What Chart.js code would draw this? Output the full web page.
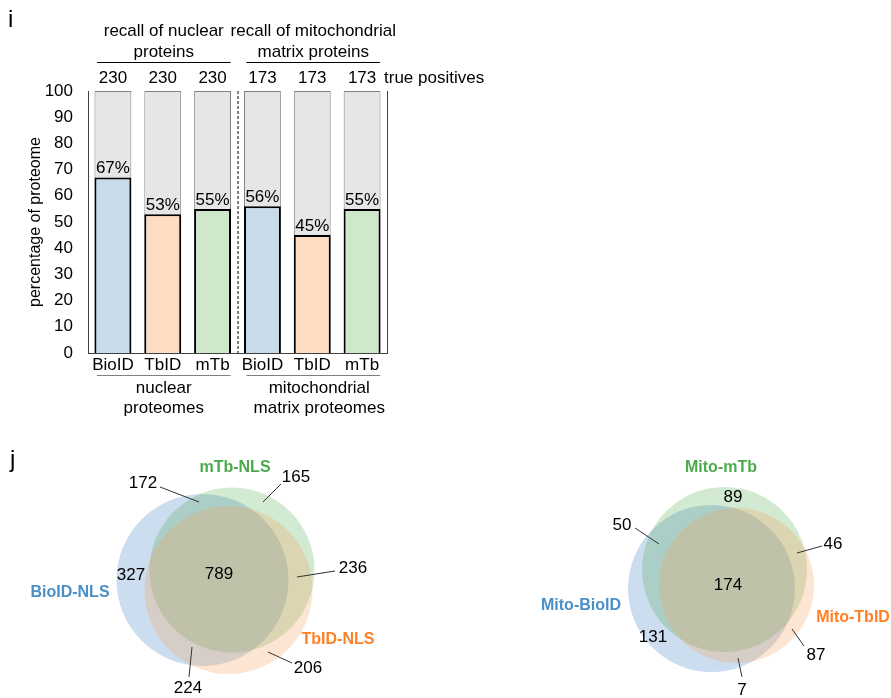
<!DOCTYPE html>
<html>
<head>
<meta charset="utf-8">
<script src="https://cdn.jsdelivr.net/npm/chart.js@4"></script>
<style>
  html, body { margin: 0; padding: 0; background: #fff; }
  #wrap { position: relative; width: 891px; height: 698px; }
  #wrap canvas { position: absolute; left: 0; top: 0; }
</style>
</head>
<body>
<div id="wrap">
  <canvas id="barChart" width="891" height="698"></canvas>
  <canvas id="vennChart" width="891" height="698"></canvas>
</div>
<script>
// panel i data
const categories = ['BioID', 'TbID', 'mTb', 'BioID', 'TbID', 'mTb'];
const recallPct = [67, 53, 55, 56, 45, 55];
const proteomePct = [100, 100, 100, 100, 100, 100];
const truePositives = [230, 230, 230, 173, 173, 173];
const yTicks = [0, 10, 20, 30, 40, 50, 60, 70, 80, 90, 100];
const topGroups = [['recall of nuclear', 'proteins'], ['recall of mitochondrial', 'matrix proteins']];
const bottomGroups = [['nuclear', 'proteomes'], ['mitochondrial', 'matrix proteomes']];

// panel j data (counts per Venn region)
const regionNames = ['BioID only', 'BioID+mTb', 'mTb only', 'all three', 'mTb+TbID', 'BioID+TbID', 'TbID only'];
const nuclearSets = ['BioID-NLS', 'mTb-NLS', 'TbID-NLS'];
const nuclearCounts = [327, 172, 165, 789, 236, 224, 206];
const mitoSets = ['Mito-BioID', 'Mito-mTb', 'Mito-TbID'];
const mitoCounts = [131, 50, 89, 174, 46, 7, 87];

const FONT = "'Liberation Sans', Arial, sans-serif";
const barColors = ['#c7dbea', '#fddcc2', '#cfe8cc', '#c7dbea', '#fddcc2', '#cfe8cc'];

// ---- panel i ----
const barDecor = {
  id: 'barDecor',
  afterDatasetsDraw(chart) {
    const ctx = chart.ctx;
    const x = chart.scales.x, y = chart.scales.y;
    const area = chart.chartArea;
    ctx.save();
    ctx.fillStyle = '#000';
    ctx.font = '17px ' + FONT;
    ctx.textAlign = 'center';

    // percentages above bars
    ctx.textBaseline = 'bottom';
    recallPct.forEach((v, i) => {
      ctx.fillText(v + '%', x.getPixelForValue(i), y.getPixelForValue(v) - 0.5);
    });

    // true positives row
    ctx.textBaseline = 'middle';
    truePositives.forEach((v, i) => {
      ctx.fillText(String(v), x.getPixelForValue(i), 78);
    });
    ctx.textAlign = 'left';
    ctx.fillText('true positives', area.right - 3, 78);

    // right frame line
    ctx.strokeStyle = '#404040';
    ctx.lineWidth = 1;
    ctx.beginPath();
    ctx.moveTo(area.right + 0.5, area.top);
    ctx.lineTo(area.right + 0.5, area.bottom);
    ctx.stroke();

    // dashed separator between groups
    const mid = (x.getPixelForValue(2) + x.getPixelForValue(3)) / 2;
    ctx.strokeStyle = '#000';
    ctx.setLineDash([3, 2]);
    ctx.beginPath();
    ctx.moveTo(mid + 0.5, area.top);
    ctx.lineTo(mid + 0.5, area.bottom);
    ctx.stroke();
    ctx.setLineDash([]);

    // group headers / footers
    ctx.textAlign = 'center';
    [[0, 2], [3, 5]].forEach((g, k) => {
      const x0 = x.getPixelForValue(g[0]) - 16;
      const x1 = x.getPixelForValue(g[1]) + 18;
      const cx = (x0 + x1) / 2;
      ctx.fillStyle = '#000';
      ctx.fillText(topGroups[k][0], cx, 31);
      ctx.fillText(topGroups[k][1], cx, 52);
      ctx.strokeStyle = '#000';
      ctx.beginPath();
      ctx.moveTo(x0, 62.5);
      ctx.lineTo(x1, 62.5);
      ctx.stroke();

      ctx.strokeStyle = '#808080';
      ctx.beginPath();
      ctx.moveTo(x0, 375.5);
      ctx.lineTo(x1, 375.5);
      ctx.stroke();
      ctx.fillText(bottomGroups[k][0], cx + (k ? 6 : 0), 388);
      ctx.fillText(bottomGroups[k][1], cx + (k ? 6 : 0), 408);
    });

    // panel letter
    ctx.font = '24px ' + FONT;
    ctx.textAlign = 'left';
    ctx.fillText('i', 8, 20);
    ctx.restore();
  }
};

new Chart(document.getElementById('barChart'), {
  type: 'bar',
  data: {
    labels: categories,
    datasets: [
      {
        label: 'recall',
        data: recallPct,
        backgroundColor: barColors,
        borderColor: '#000',
        borderWidth: 2,
        borderSkipped: 'start',
        order: 1
      },
      {
        label: 'proteome',
        data: proteomePct,
        backgroundColor: '#e6e6e6',
        borderColor: '#808080',
        borderWidth: 1,
        order: 2
      }
    ]
  },
  options: {
    responsive: false,
    animation: false,
    events: [],
    layout: { padding: { left: 0, top: 91, right: 504, bottom: 0 } },
    datasets: { bar: { barPercentage: 0.74, categoryPercentage: 1 } },
    plugins: { legend: { display: false }, tooltip: { enabled: false } },
    scales: {
      x: {
        stacked: true,
        grid: { display: false, drawTicks: false },
        border: { display: true, color: '#404040', width: 1 },
        ticks: { color: '#000', font: { family: FONT, size: 17 }, padding: 2, maxRotation: 0 },
        afterFit: s => { s.height = 345; }
      },
      y: {
        stacked: false,
        min: 0,
        max: 100,
        grid: { display: false, drawTicks: false },
        border: { display: true, color: '#404040', width: 1 },
        ticks: { color: '#000', font: { family: FONT, size: 17 }, padding: 15 },
        afterBuildTicks: s => { s.ticks = yTicks.map(v => ({ value: v })); },
        title: {
          display: true,
          text: 'percentage of proteome',
          color: '#000',
          font: { family: FONT, size: 16 },
          padding: { top: 26, bottom: 0 }
        },
        afterFit: s => { s.width = 88; }
      }
    }
  },
  plugins: [barDecor]
});

// ---- panel j ----
// circle geometry (page pixels) and label placement
const vennCircles = [
  [{ x: 202.5, y: 580, r: 86 }, { x: 232, y: 570, r: 82.5 }, { x: 228.5, y: 590, r: 84 }],
  [{ x: 711.5, y: 588.5, r: 83.5 }, { x: 724.5, y: 569.5, r: 82.5 }, { x: 736.5, y: 585.5, r: 77.5 }]
];
const setColors = ['rgba(68,133,196,0.28)', 'rgba(76,168,76,0.25)', 'rgba(245,160,90,0.27)'];
const setTextColors = ['#4a8fc6', '#4caa4c', '#ff8025'];
const setLabelPos = [
  [[70, 593], [235, 468], [338, 640]],
  [[581, 606], [721, 468], [853, 618]]
];
// [labelX, labelY, lineX0, lineY0, lineX1, lineY1] per region
const countPos = [
  [[131, 575], [143, 483, 160, 487, 199, 502], [296, 477, 281, 484, 263, 502], [219, 574],
   [353, 568, 335, 571, 297, 577], [188, 688, 189, 677, 192, 647], [308, 668, 292, 663, 268, 652]],
  [[653, 637], [622, 525, 635, 528, 659, 544], [733, 497], [728, 585],
   [833, 544, 822, 546, 797, 553], [742, 690, 742, 677, 738, 658], [816, 655, 804, 646, 792, 629]]
];

const vennDecor = {
  id: 'vennDecor',
  afterDatasetsDraw(chart) {
    const ctx = chart.ctx;
    const sx = chart.scales.x, sy = chart.scales.y;
    const px = v => sx.getPixelForValue(v), py = v => sy.getPixelForValue(v);
    ctx.save();
    [[nuclearSets, nuclearCounts], [mitoSets, mitoCounts]].forEach(([sets, counts], d) => {
      ctx.textAlign = 'center';
      ctx.textBaseline = 'middle';
      ctx.font = 'bold 16px ' + FONT;
      sets.forEach((name, k) => {
        ctx.fillStyle = setTextColors[k];
        ctx.fillText(name, px(setLabelPos[d][k][0]), py(setLabelPos[d][k][1]));
      });
      ctx.font = '17px ' + FONT;
      ctx.fillStyle = '#000';
      ctx.strokeStyle = '#333';
      ctx.lineWidth = 1;
      counts.forEach((c, k) => {
        const p = countPos[d][k];
        ctx.fillText(String(c), px(p[0]), py(p[1]));
        if (p.length > 2) {
          ctx.beginPath();
          ctx.moveTo(px(p[2]), py(p[3]));
          ctx.lineTo(px(p[4]), py(p[5]));
          ctx.stroke();
        }
      });
    });
    ctx.font = '24px ' + FONT;
    ctx.textAlign = 'left';
    ctx.fillStyle = '#000';
    ctx.fillText('j', 10, 460);
    ctx.restore();
  }
};

new Chart(document.getElementById('vennChart'), {
  type: 'bubble',
  data: {
    // blue drawn first, orange last (on top)
    datasets: [0, 1, 2].map(k => ({
      label: nuclearSets[k] + ' / ' + mitoSets[k],
      data: [vennCircles[0][k], vennCircles[1][k]],
      backgroundColor: setColors[k],
      borderWidth: 0,
      hoverRadius: 0,
      clip: false,
      order: 3 - k
    }))
  },
  options: {
    responsive: false,
    animation: false,
    events: [],
    layout: { padding: 0, autoPadding: false },
    plugins: { legend: { display: false }, tooltip: { enabled: false } },
    scales: {
      x: { type: 'linear', min: 0, max: 891, display: false },
      y: { type: 'linear', min: 0, max: 698, reverse: true, display: false }
    }
  },
  plugins: [vennDecor]
});
</script>
</body>
</html>
